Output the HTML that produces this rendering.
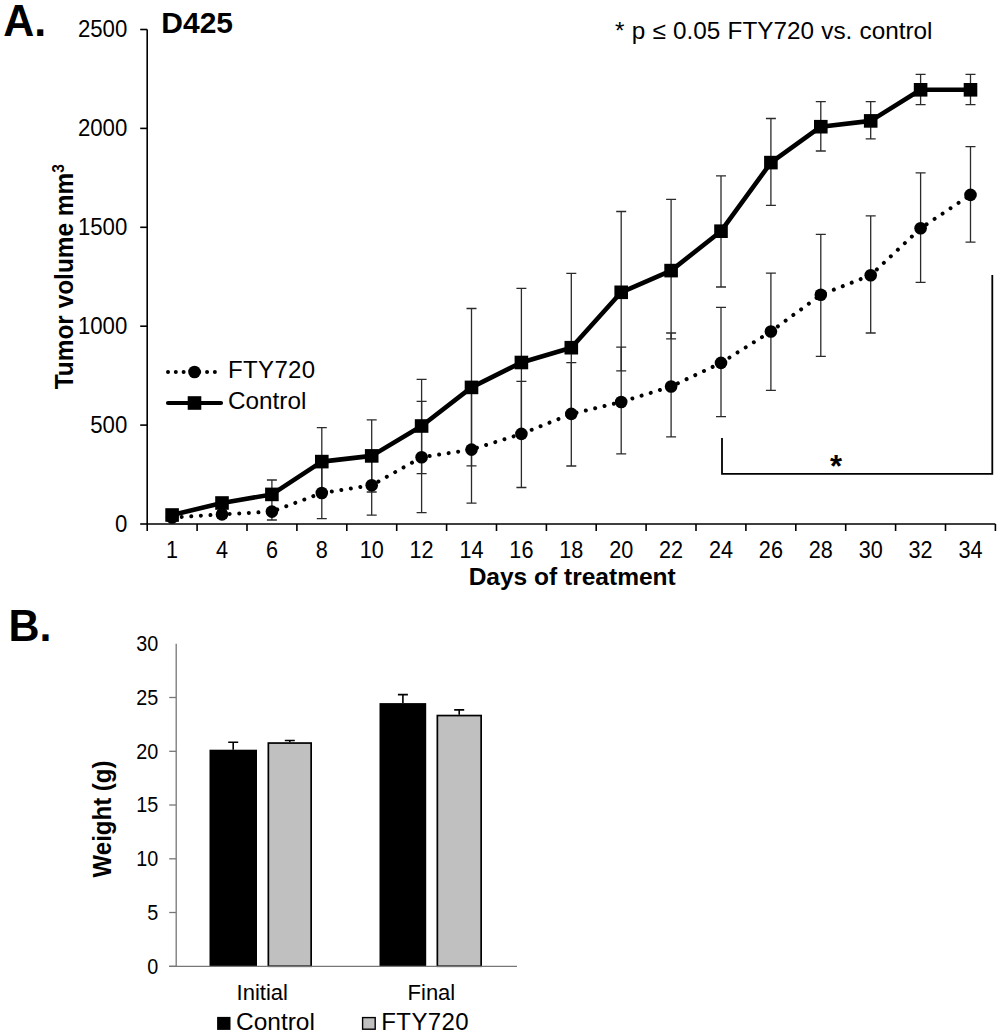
<!DOCTYPE html>
<html lang="en"><head><meta charset="utf-8"><title>Figure</title>
<style>html,body{margin:0;padding:0;background:#fff}svg{display:block}text{font-family:"Liberation Sans",Arial,sans-serif;fill:#000}</style></head><body>
<svg width="1000" height="1036" viewBox="0 0 1000 1036">
<rect width="1000" height="1036" fill="#fff"/>
<text transform="translate(3.2 36.4) scale(1 1.05)" font-size="43" font-weight="bold">A.</text>
<text transform="translate(161.3 33)" font-size="30" font-weight="bold">D425</text>
<text transform="translate(615 39.2)" font-size="24.3" word-spacing="0.5">* p ≤ 0.05 FTY720 vs. control</text>
<g stroke="#000" stroke-width="1.6" fill="none">
<path d="M147.2 29.5V524.0H995.4"/>
<path d="M140.2 524.0H147.2"/>
<path d="M140.2 425.1H147.2"/>
<path d="M140.2 326.2H147.2"/>
<path d="M140.2 227.3H147.2"/>
<path d="M140.2 128.4H147.2"/>
<path d="M140.2 29.5H147.2"/>
<path d="M147.2 524.0V531.0"/>
<path d="M197.1 524.0V531.0"/>
<path d="M247.0 524.0V531.0"/>
<path d="M296.9 524.0V531.0"/>
<path d="M346.8 524.0V531.0"/>
<path d="M396.7 524.0V531.0"/>
<path d="M446.6 524.0V531.0"/>
<path d="M496.5 524.0V531.0"/>
<path d="M546.4 524.0V531.0"/>
<path d="M596.2 524.0V531.0"/>
<path d="M646.1 524.0V531.0"/>
<path d="M696.0 524.0V531.0"/>
<path d="M745.9 524.0V531.0"/>
<path d="M795.8 524.0V531.0"/>
<path d="M845.7 524.0V531.0"/>
<path d="M895.6 524.0V531.0"/>
<path d="M945.5 524.0V531.0"/>
<path d="M995.4 524.0V531.0"/>
</g>
<text transform="translate(127.3 531.6) scale(0.945 1)" font-size="23.5" text-anchor="end">0</text>
<text transform="translate(127.3 432.7) scale(0.945 1)" font-size="23.5" text-anchor="end">500</text>
<text transform="translate(127.3 333.8) scale(0.945 1)" font-size="23.5" text-anchor="end">1000</text>
<text transform="translate(127.3 234.9) scale(0.945 1)" font-size="23.5" text-anchor="end">1500</text>
<text transform="translate(127.3 136.0) scale(0.945 1)" font-size="23.5" text-anchor="end">2000</text>
<text transform="translate(127.3 37.1) scale(0.945 1)" font-size="23.5" text-anchor="end">2500</text>
<text transform="translate(172.1 557.9) scale(0.93 1)" font-size="23.3" text-anchor="middle">1</text>
<text transform="translate(222.0 557.9) scale(0.93 1)" font-size="23.3" text-anchor="middle">4</text>
<text transform="translate(271.9 557.9) scale(0.93 1)" font-size="23.3" text-anchor="middle">6</text>
<text transform="translate(321.8 557.9) scale(0.93 1)" font-size="23.3" text-anchor="middle">8</text>
<text transform="translate(371.7 557.9) scale(0.93 1)" font-size="23.3" text-anchor="middle">10</text>
<text transform="translate(421.6 557.9) scale(0.93 1)" font-size="23.3" text-anchor="middle">12</text>
<text transform="translate(471.5 557.9) scale(0.93 1)" font-size="23.3" text-anchor="middle">14</text>
<text transform="translate(521.4 557.9) scale(0.93 1)" font-size="23.3" text-anchor="middle">16</text>
<text transform="translate(571.3 557.9) scale(0.93 1)" font-size="23.3" text-anchor="middle">18</text>
<text transform="translate(621.2 557.9) scale(0.93 1)" font-size="23.3" text-anchor="middle">20</text>
<text transform="translate(671.1 557.9) scale(0.93 1)" font-size="23.3" text-anchor="middle">22</text>
<text transform="translate(721.0 557.9) scale(0.93 1)" font-size="23.3" text-anchor="middle">24</text>
<text transform="translate(770.9 557.9) scale(0.93 1)" font-size="23.3" text-anchor="middle">26</text>
<text transform="translate(820.8 557.9) scale(0.93 1)" font-size="23.3" text-anchor="middle">28</text>
<text transform="translate(870.7 557.9) scale(0.93 1)" font-size="23.3" text-anchor="middle">30</text>
<text transform="translate(920.6 557.9) scale(0.93 1)" font-size="23.3" text-anchor="middle">32</text>
<text transform="translate(970.5 557.9) scale(0.93 1)" font-size="23.3" text-anchor="middle">34</text>
<text transform="translate(572.2 585.4) scale(1.067 1)" font-size="23" font-weight="bold" text-anchor="middle">Days of treatment</text>
<text transform="translate(73.2 276.7) rotate(-90) scale(1 1.09)" font-size="24.4" font-weight="bold" text-anchor="middle">Tumor volume mm<tspan font-size="15.5" dy="-8.5">3</tspan></text>
<g stroke="#2b2b2b" stroke-width="1.3" fill="none">
<path d="M217.0 498h10M222.0 498V508M217.0 508h10"/>
<path d="M266.9 480h10M271.9 480V510M266.9 510h10"/>
<path d="M316.8 427.6h10M321.8 427.6V495.6M316.8 495.6h10"/>
<path d="M366.7 419.8h10M371.7 419.8V492M366.7 492h10"/>
<path d="M416.6 379.4h10M421.6 379.4V473.7M416.6 473.7h10"/>
<path d="M466.5 308.5h10M471.5 308.5V465.8M466.5 465.8h10"/>
<path d="M516.4 288.4h10M521.4 288.4V436.6M516.4 436.6h10"/>
<path d="M566.3 273.3h10M571.3 273.3V417M566.3 417h10"/>
<path d="M616.2 211.5h10M621.2 211.5V370.8M616.2 370.8h10"/>
<path d="M666.1 199.4h10M671.1 199.4V338.9M666.1 338.9h10"/>
<path d="M716.0 175.8h10M721.0 175.8V287M716.0 287h10"/>
<path d="M765.9 118.5h10M770.9 118.5V205.3M765.9 205.3h10"/>
<path d="M815.8 101.7h10M820.8 101.7V151M815.8 151h10"/>
<path d="M865.7 101.7h10M870.7 101.7V138.8M865.7 138.8h10"/>
<path d="M915.6 74.3h10M920.6 74.3V104.7M915.6 104.7h10"/>
<path d="M965.5 74.3h10M970.5 74.3V104.7M965.5 104.7h10"/>
<path d="M217.0 511h10M222.0 511V518M217.0 518h10"/>
<path d="M266.9 510h10M271.9 510V520M266.9 520h10"/>
<path d="M316.8 467h10M321.8 467V518.7M316.8 518.7h10"/>
<path d="M366.7 455.5h10M371.7 455.5V515.2M366.7 515.2h10"/>
<path d="M416.6 401.4h10M421.6 401.4V512.6M416.6 512.6h10"/>
<path d="M466.5 391h10M471.5 391V503.2M466.5 503.2h10"/>
<path d="M516.4 381.3h10M521.4 381.3V487.5M516.4 487.5h10"/>
<path d="M566.3 362.6h10M571.3 362.6V466M566.3 466h10"/>
<path d="M616.2 347.1h10M621.2 347.1V453.8M616.2 453.8h10"/>
<path d="M666.1 333h10M671.1 333V436.8M666.1 436.8h10"/>
<path d="M716.0 307.4h10M721.0 307.4V416.7M716.0 416.7h10"/>
<path d="M765.9 273.1h10M770.9 273.1V390.4M765.9 390.4h10"/>
<path d="M815.8 234.4h10M820.8 234.4V356.3M815.8 356.3h10"/>
<path d="M865.7 215.8h10M870.7 215.8V333M865.7 333h10"/>
<path d="M915.6 172.9h10M920.6 172.9V282.3M915.6 282.3h10"/>
<path d="M965.5 146.6h10M970.5 146.6V242.1M965.5 242.1h10"/>
</g>
<polyline points="172.1,517.5 222.0,514.4 271.9,511.6 321.8,493 371.7,485.3 421.6,457.3 471.5,449.6 521.4,433.9 571.3,413.9 621.2,402 671.1,386.5 721.0,362.9 770.9,331.5 820.8,294.8 870.7,275.2 920.6,228.3 970.5,194.9" fill="none" stroke="#000" stroke-width="4" stroke-linecap="round" stroke-linejoin="round" stroke-dasharray="0.01 9.6"/>
<circle cx="172.1" cy="517.5" r="6.3"/>
<circle cx="222.0" cy="514.4" r="6.3"/>
<circle cx="271.9" cy="511.6" r="6.3"/>
<circle cx="321.8" cy="493" r="6.3"/>
<circle cx="371.7" cy="485.3" r="6.3"/>
<circle cx="421.6" cy="457.3" r="6.3"/>
<circle cx="471.5" cy="449.6" r="6.3"/>
<circle cx="521.4" cy="433.9" r="6.3"/>
<circle cx="571.3" cy="413.9" r="6.3"/>
<circle cx="621.2" cy="402" r="6.3"/>
<circle cx="671.1" cy="386.5" r="6.3"/>
<circle cx="721.0" cy="362.9" r="6.3"/>
<circle cx="770.9" cy="331.5" r="6.3"/>
<circle cx="820.8" cy="294.8" r="6.3"/>
<circle cx="870.7" cy="275.2" r="6.3"/>
<circle cx="920.6" cy="228.3" r="6.3"/>
<circle cx="970.5" cy="194.9" r="6.3"/>
<polyline points="172.1,515 222.0,503 271.9,494.4 321.8,461.6 371.7,455.9 421.6,426 471.5,387.4 521.4,362.5 571.3,347.7 621.2,292.3 671.1,270.6 721.0,231.2 770.9,162.6 820.8,126.7 870.7,120.9 920.6,89.8 970.5,89.8" fill="none" stroke="#000" stroke-width="4.6" stroke-linejoin="round"/>
<rect x="165.3" y="508.2" width="13.6" height="13.6"/>
<rect x="215.2" y="496.2" width="13.6" height="13.6"/>
<rect x="265.1" y="487.6" width="13.6" height="13.6"/>
<rect x="315.0" y="454.8" width="13.6" height="13.6"/>
<rect x="364.9" y="449.1" width="13.6" height="13.6"/>
<rect x="414.8" y="419.2" width="13.6" height="13.6"/>
<rect x="464.7" y="380.6" width="13.6" height="13.6"/>
<rect x="514.6" y="355.7" width="13.6" height="13.6"/>
<rect x="564.5" y="340.9" width="13.6" height="13.6"/>
<rect x="614.4" y="285.5" width="13.6" height="13.6"/>
<rect x="664.3" y="263.8" width="13.6" height="13.6"/>
<rect x="714.2" y="224.4" width="13.6" height="13.6"/>
<rect x="764.1" y="155.8" width="13.6" height="13.6"/>
<rect x="814.0" y="119.9" width="13.6" height="13.6"/>
<rect x="863.9" y="114.1" width="13.6" height="13.6"/>
<rect x="913.8" y="83.0" width="13.6" height="13.6"/>
<rect x="963.7" y="83.0" width="13.6" height="13.6"/>
<path d="M168 372H222" stroke="#000" stroke-width="4" stroke-linecap="round" stroke-dasharray="0.01 7.8" fill="none"/>
<circle cx="194.5" cy="372" r="6.3"/>
<text transform="translate(228 378.2)" font-size="24" letter-spacing="0.35">FTY720</text>
<path d="M168 403H221" stroke="#000" stroke-width="4.2" stroke-linecap="round" fill="none"/>
<rect x="187.7" y="396.2" width="13.6" height="13.6"/>
<text transform="translate(228 409.3) scale(1.03 1)" font-size="23.6">Control</text>
<path d="M722 438V473.8H992.3V275" fill="none" stroke="#000" stroke-width="1.8"/>
<text x="836" y="476.5" font-size="31" font-weight="bold" text-anchor="middle">*</text>
<text transform="translate(8.5 641.2) scale(1 1.05)" font-size="43" font-weight="bold">B.</text>
<text transform="translate(158.3 973.6) scale(0.9 1)" font-size="22" text-anchor="end">0</text>
<text transform="translate(158.3 919.8) scale(0.9 1)" font-size="22" text-anchor="end">5</text>
<text transform="translate(158.3 866.1) scale(0.9 1)" font-size="22" text-anchor="end">10</text>
<text transform="translate(158.3 812.3) scale(0.9 1)" font-size="22" text-anchor="end">15</text>
<text transform="translate(158.3 758.6) scale(0.9 1)" font-size="22" text-anchor="end">20</text>
<text transform="translate(158.3 704.8) scale(0.9 1)" font-size="22" text-anchor="end">25</text>
<text transform="translate(158.3 651.1) scale(0.9 1)" font-size="22" text-anchor="end">30</text>
<text transform="translate(110.8 819) rotate(-90) scale(1 1.08)" font-size="24" font-weight="bold" text-anchor="middle">Weight (g)</text>
<path d="M233.2 749.7V742.2M228.2 742.2h10" stroke="#000" stroke-width="1.6" fill="none"/>
<rect x="209.5" y="749.7" width="47.5" height="216.6" fill="#000"/>
<path d="M289.8 742.2V740.5M284.8 740.5h10" stroke="#000" stroke-width="1.6" fill="none"/>
<rect x="268.35" y="743.05" width="42.8" height="223.2" fill="#c0c0c0" stroke="#000" stroke-width="1.7"/>
<path d="M402.9 703.1V694.6M397.9 694.6h10" stroke="#000" stroke-width="1.6" fill="none"/>
<rect x="379.5" y="703.1" width="46.7" height="263.2" fill="#000"/>
<path d="M459.2 714.7V709.9M454.2 709.9h10" stroke="#000" stroke-width="1.6" fill="none"/>
<rect x="437.35" y="715.55" width="43.8" height="250.7" fill="#c0c0c0" stroke="#000" stroke-width="1.7"/>
<g stroke="#777" stroke-width="1.3" fill="none">
<path d="M176.2 643.8V966.3"/><path d="M169.2 966.3H517"/>
<path d="M169.2 966.3H176.2"/>
<path d="M169.2 912.5H176.2"/>
<path d="M169.2 858.8H176.2"/>
<path d="M169.2 805.0H176.2"/>
<path d="M169.2 751.3H176.2"/>
<path d="M169.2 697.5H176.2"/>
</g>
<text transform="translate(262.2 999.6)" font-size="22" text-anchor="middle">Initial</text>
<text transform="translate(431.4 999.6)" font-size="22" text-anchor="middle">Final</text>
<rect x="217.1" y="1016.9" width="13.4" height="13" fill="#000"/>
<text transform="translate(236 1029.7) scale(1.02 1)" font-size="24">Control</text>
<rect x="362.6" y="1017.6" width="12.6" height="11.6" fill="#c0c0c0" stroke="#000" stroke-width="1.4"/>
<text transform="translate(381.3 1029.7)" font-size="24" letter-spacing="0.4">FTY720</text>
</svg></body></html>
